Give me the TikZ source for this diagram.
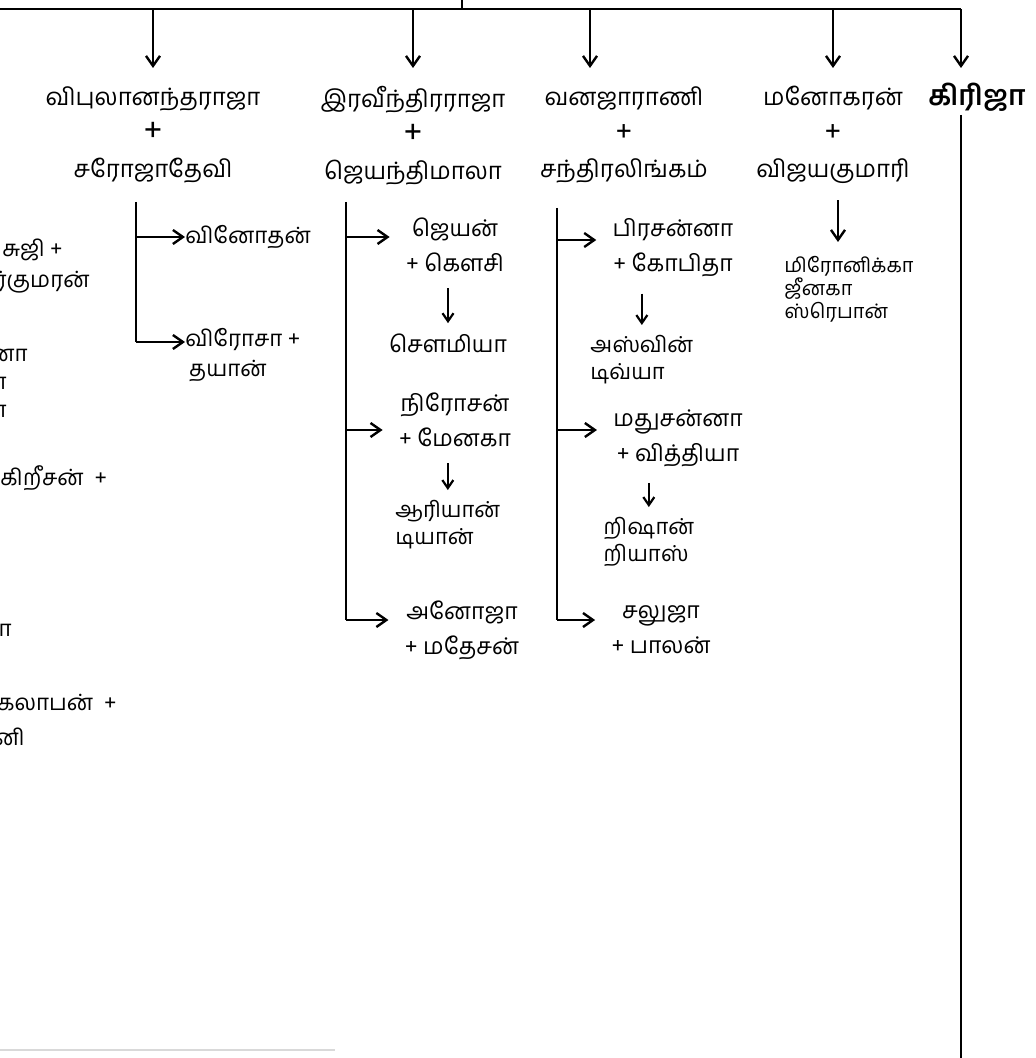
\documentclass[tikz,border=0pt]{standalone}
\usepackage{fontspec}
\usetikzlibrary{arrows.meta}
\newfontfamily\tamil[Script=Tamil]{Hind Madurai}
\begin{document}
\begin{tikzpicture}[x=0.5pt,y=-0.5pt,
    line/.style={line width=0.6pt},
    arr/.style={line width=0.7pt, -{Straight Barb[length=5pt,width=7pt,line width=1.2pt]}},
    arrs/.style={line width=0.7pt, -{Straight Barb[length=4pt,width=5.5pt,line width=1.1pt]}},
    person/.style={font=\tamil\fontsize{12}{18}\selectfont, align=center, anchor=north, inner sep=0pt},
    heir/.style={font=\tamil\fontsize{11.5}{17.5}\selectfont, align=center, inner sep=0pt},
    heirl/.style={font=\tamil\fontsize{11}{13.5}\selectfont, align=left, anchor=north west, inner sep=0pt},
    heirs/.style={font=\tamil\fontsize{10}{11.5}\selectfont, align=left, anchor=north west, inner sep=0pt},
    frag/.style={font=\tamil\fontsize{11.2}{15}\selectfont, inner sep=0pt},
  ]
  \useasboundingbox (0,0) rectangle (1036,1058);
  \clip (0,0) rectangle (1036,1058);
  % Bar
  \coordinate (root) at (462,0);
  \coordinate (gtop) at (961,9);
  \draw[line] (root) -- (root |- gtop);
  \draw[line] (0,9) -- (gtop);
  % Couples
  \node[person] (vipu) at (153,86) {விபுலானந்தராஜா\\{\fontsize{17}{18}\selectfont +}\\சரோஜாதேவி};
  \node[person] (ravi) at (413,86) {இரவீந்திரராஜா\\{\fontsize{17}{18}\selectfont +}\\ஜெயந்திமாலா};
  \node[person] (vanaja) at (624,86) {வனஜாராணி\\{\fontsize{15}{18}\selectfont +}\\சந்திரலிங்கம்};
  \node[person] (mano) at (833,86) {மனோகரன்\\{\fontsize{15}{18}\selectfont +}\\விஜயகுமாரி};
  \node[font=\tamil\bfseries\fontsize{14}{16}\selectfont, inner sep=0pt] (giri) at (977,97) {கிரிஜா};
  \foreach \n/\x in {vipu/153, ravi/413, vanaja/590, mano/833}
  {
      \draw[arr, shorten >=9pt] (\x,9) -- (\n.north -| \x,9);
  }
  \draw[arr] (gtop) -- (961,68);
  \draw[line] (961,115) -- (961,1070);
  % Left side (cut off)
  \node[frag, anchor=east] at (63,250) {சுஜி +};
  \node[frag, anchor=east] at (90,282) {ர்குமரன்};
  \node[frag, anchor=east] at (28,355) {னா};
  \node[frag, anchor=east] at (7,385) {ரா};
  \node[frag, anchor=east] at (7,413) {ரா};
  \node[frag, anchor=west] at (0,478) {கிறீசன்\ \ +};
  \node[frag, anchor=east] at (12,630) {ளா};
  \node[frag, anchor=west] at (-3,703) {கலாபன்\ \ +};
  \node[frag, anchor=east] at (25,737) {னி};
  % Column 1
  \node[frag, anchor=west] (vino) at (185,237) {வினோதன்};
  \node[frag, align=left, anchor=north west] (viro) at (185,328) {விரோசா +\\\,தயான்};
  \draw[line] (136,202) -- (136,342);
  \draw[arr] (136,237) -- (vino.west);
  \draw[arr] (136,342) -- (136,342 -| viro.west);
  % Column 2
  \node[heir] (jeyan) at (455,245) {ஜெயன்\\+ கௌசி};
  \node[heir] (sowmi) at (448,343) {சௌமியா};
  \node[heir] (niro) at (455,420) {நிரோசன்\\+ மேனகா};
  \node[heirl] (ariya) at (395,500) {ஆரியான்\\டியான்};
  \node[heir] (anoja) at (462,630) {அனோஜா\\+ மதேசன்};
  \draw[line] (346,202) -- (346,620);
  \foreach \y/\n in {237/jeyan, 430/niro, 620/anoja}
  {
      \draw[arr, shorten >=8pt] (346,\y) -- (346,\y -| \n.west);
  }
  \draw[arrs, shorten <=8pt, shorten >=5pt] (sowmi.north |- jeyan.south) -- (sowmi.north);
  \draw[arrs, shorten <=8pt, shorten >=5pt] (ariya.north |- niro.south) -- (ariya.north);
  % Column 3
  \node[heir] (prasa) at (673,248) {பிரசன்னா\\+ கோபிதா};
  \node[heirl] (aswin) at (590,335) {அஸ்வின்\\டிவ்யா};
  \node[heir] (madhu) at (678,438) {மதுசன்னா\\+ வித்தியா};
  \node[heirl] (rishan) at (603,517) {றிஷான்\\றியாஸ்};
  \node[heir] (saluja) at (661,630) {சலுஜா\\+ பாலன்};
  \draw[line] (557,208) -- (557,620);
  \foreach \y/\n in {240/prasa, 430/madhu, 620/saluja}
  {
      \draw[arr, shorten >=8pt] (557,\y) -- (557,\y -| \n.west);
  }
  \draw[arrs, shorten <=8pt, shorten >=5pt] (aswin.north |- prasa.south) -- (aswin.north);
  \draw[arrs, shorten <=8pt, shorten >=5pt] (rishan.north |- madhu.south) -- (rishan.north);
  % Column 4
  \node[heirs] (miro) at (784,256) {மிரோனிக்கா\\ஜீனகா\\ஸ்ரெபான்};
  \draw[arr, shorten <=8pt, shorten >=7pt] (mano.south -| 838,0) -- (miro.north -| 838,0);
  % Scan edge
  \draw[gray!30, line width=0.8pt] (0,1050) -- (335,1050);
\end{tikzpicture}
\end{document}
